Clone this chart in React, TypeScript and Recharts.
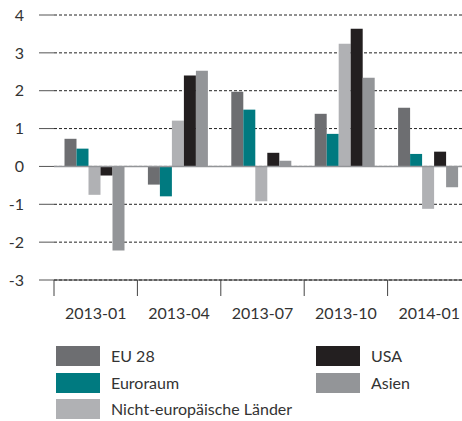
import { BarChart, Bar, XAxis, YAxis, CartesianGrid, ReferenceLine } from 'recharts'

const months = ['2013-01', '2013-04', '2013-07', '2013-10', '2014-01']
const eu28 = [0.73, -0.48, 1.97, 1.39, 1.55]
const euroraum = [0.47, -0.79, 1.5, 0.86, 0.33]
const nichtEuropa = [-0.75, 1.21, -0.92, 3.24, -1.12]
const usa = [-0.24, 2.4, 0.36, 3.64, 0.39]
const asien = [-2.22, 2.53, 0.15, 2.34, -0.55]
const yTicks = [-3, -2, -1, 0, 1, 2, 3, 4]

const series = [
  { key: 'eu28', name: 'EU 28', color: '#6d6e71', values: eu28 },
  { key: 'euroraum', name: 'Euroraum', color: '#007a80', values: euroraum },
  { key: 'nicht', name: 'Nicht-europäische Länder', color: '#b0b1b4', values: nichtEuropa },
  { key: 'usa', name: 'USA', color: '#231f20', values: usa },
  { key: 'asien', name: 'Asien', color: '#939598', values: asien },
]

const data = months.map((month, i) => {
  const row: Record<string, string | number> = { month }
  series.forEach((s) => {
    row[s.key] = s.values[i]
  })
  return row
})

const legendColumns = [
  [series[0], series[1], series[2]],
  [series[3], series[4]],
]

interface MonthTickProps {
  x?: number
  y?: number
  width?: number
  visibleTicksCount?: number
  payload?: { value: string }
}

// label in the middle of the month, tick mark on the left edge of its band
function MonthTick({ x = 0, y = 0, width = 0, visibleTicksCount = 1, payload }: MonthTickProps) {
  const band = Number(width) / visibleTicksCount
  const left = x - band / 2
  return (
    <g>
      <line x1={left} x2={left} y1={y} y2={y + 16} stroke="#444" />
      <text x={x} y={y + 28} dy="0.71em" textAnchor="middle" fontSize={16} fill="#333">
        {payload?.value}
      </text>
    </g>
  )
}

export default function App() {
  return (
    <div
      style={{
        position: 'absolute',
        left: 0,
        top: 0,
        width: 462,
        height: 421,
        overflow: 'hidden',
        background: '#fff',
        fontFamily: 'Lato, sans-serif',
      }}
    >
      <BarChart
        width={471}
        height={340}
        data={data}
        margin={{ top: 15, right: 0, bottom: 0, left: 0 }}
        barCategoryGap={10.5}
        barGap={0}
      >
        <CartesianGrid vertical={false} stroke="#222" strokeDasharray="3 2" />
        <XAxis
          dataKey="month"
          height={60}
          tickSize={0}
          tickMargin={0}
          axisLine={{ stroke: '#333' }}
          tickLine={false}
          interval={0}
          tick={<MonthTick />}
        />
        <YAxis
          width={54}
          domain={[-3, 4]}
          ticks={yTicks}
          interval={0}
          axisLine={false}
          tickSize={15}
          tickMargin={15}
          tickLine={{ stroke: '#555' }}
          tick={{ fontSize: 16, fill: '#333' }}
        />
        <ReferenceLine y={0} stroke="#939598" strokeWidth={1.5} />
        {series.map((s) => (
          <Bar
            key={s.key}
            dataKey={s.key}
            name={s.name}
            fill={s.color}
            isAnimationActive={false}
          />
        ))}
      </BarChart>
      <div
        style={{
          position: 'absolute',
          left: 56,
          top: 346,
          display: 'flex',
          color: '#333',
          fontSize: 16,
        }}
      >
        {legendColumns.map((col, ci) => (
          <div key={ci} style={{ width: 260 }}>
            {col.map((s) => (
              <div
                key={s.key}
                style={{ display: 'flex', alignItems: 'center', height: 20, marginBottom: 6.7 }}
              >
                <span style={{ width: 44, height: 20, background: s.color, marginRight: 11 }} />
                <span style={{ lineHeight: '20px' }}>{s.name}</span>
              </div>
            ))}
          </div>
        ))}
      </div>
    </div>
  )
}
